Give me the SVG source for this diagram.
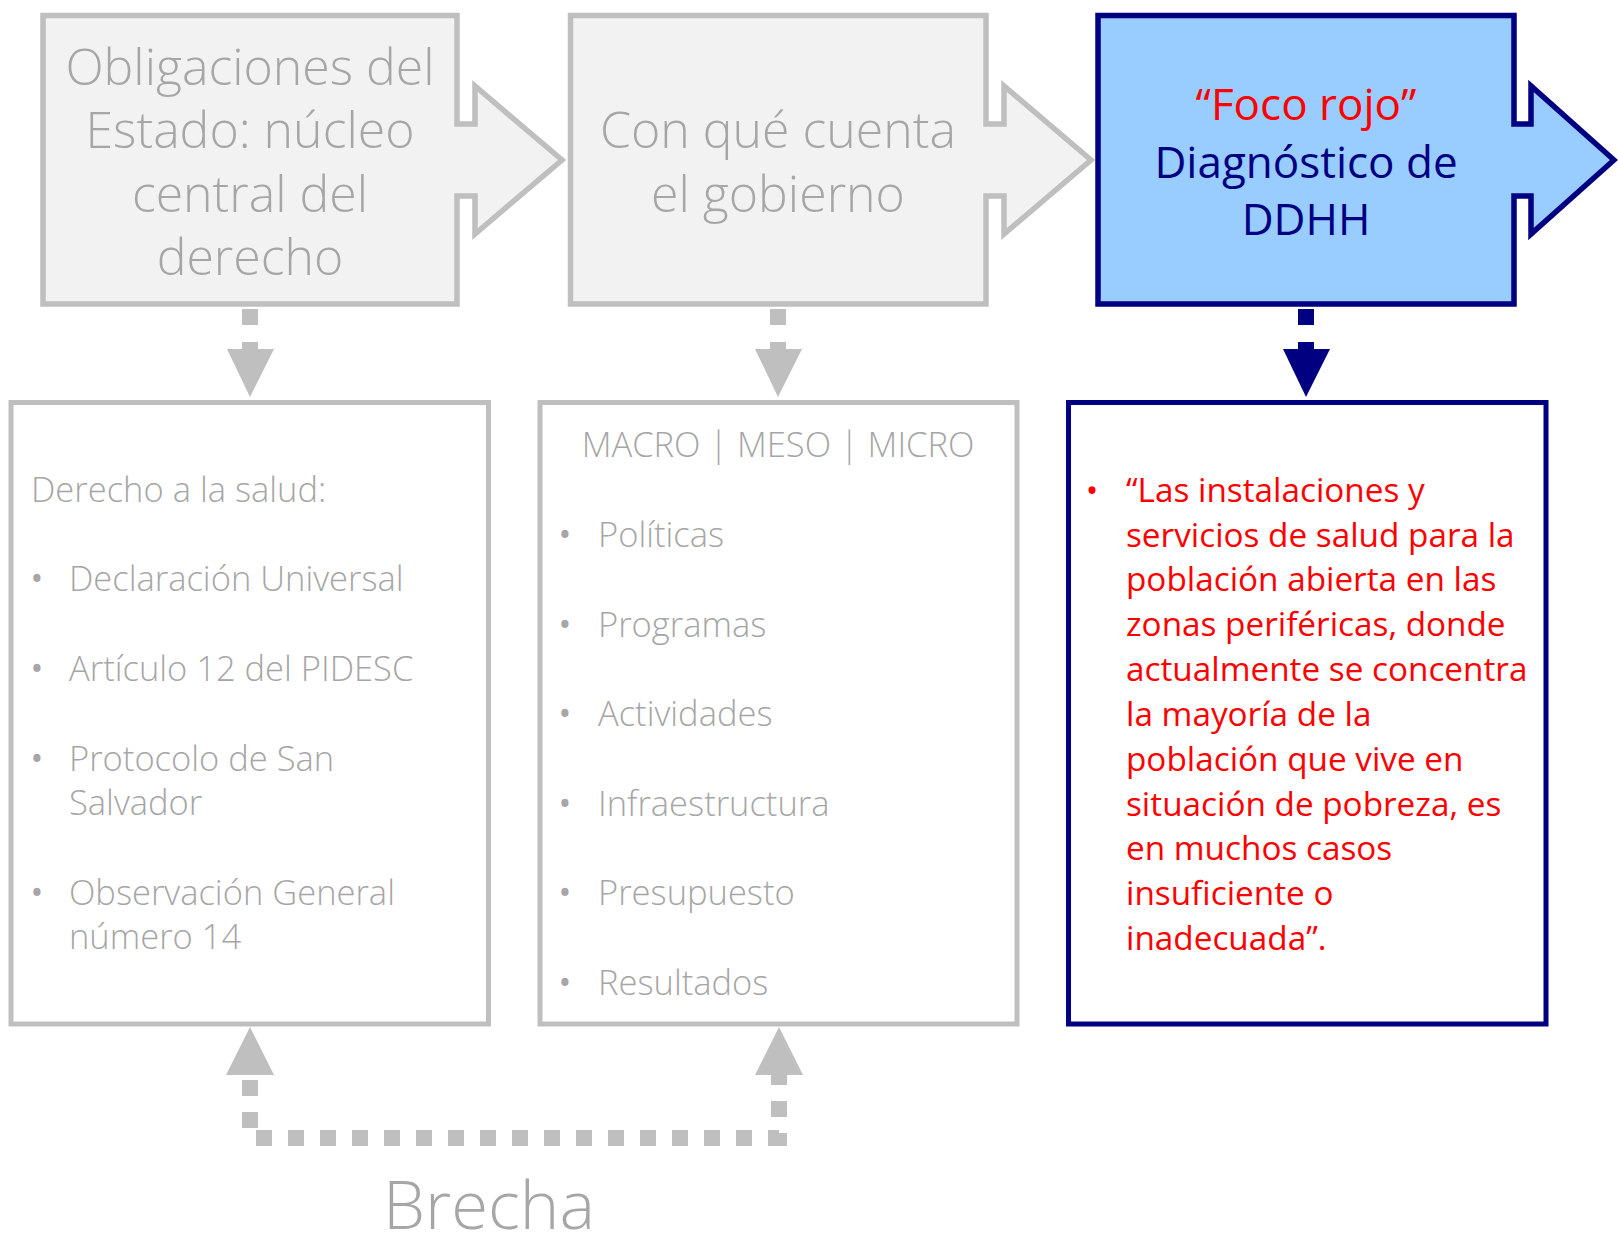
<svg xmlns="http://www.w3.org/2000/svg" width="1618" height="1240" viewBox="0 0 1618 1240">
<style>
.gbox{fill:#F2F2F2;stroke:#BFBFBF;stroke-width:5.5}
.bbox{fill:#99CCFF;stroke:#000080;stroke-width:5.5}
.wbox{fill:#FFFFFF;stroke:#BFBFBF;stroke-width:5}
.nbox{fill:#FFFFFF;stroke:#000080;stroke-width:5}
.t{font-family:"Open Sans","Noto Sans",sans-serif}
.big{font-size:50px;font-weight:300;fill:#A6A6A6;text-anchor:middle}
.hd{font-size:44px;font-weight:400;text-anchor:middle}
.li{font-size:34.5px;font-weight:300;fill:#A6A6A6}
.bul{font-size:34px;font-weight:400;fill:#A6A6A6;text-anchor:middle}
.red{font-size:33.3px;font-weight:400;fill:#FF0000}
.gd{fill:none;stroke:#BFBFBF;stroke-width:16}
.nd{fill:none;stroke:#000080;stroke-width:16}
</style>
<g id="node-obligaciones">
<path class="gbox" d="M43,15.5 H457 V124 H475 V86 L562,160 L475,234 V196 H457 V304 H43 Z"/>
<text class="t big"><tspan x="250" y="85">Obligaciones del</tspan><tspan x="250" y="148">Estado: núcleo</tspan><tspan x="250" y="212">central del</tspan><tspan x="250" y="275">derecho</tspan></text>
</g>
<g id="node-gobierno">
<path class="gbox" d="M570.5,15.5 H986 V124 H1004 V86 L1091,160 L1004,234 V196 H986 V304 H570.5 Z"/>
<text class="t big"><tspan x="778" y="148">Con qué cuenta</tspan><tspan x="778" y="212">el gobierno</tspan></text>
</g>
<g id="node-foco">
<path class="bbox" d="M1098,15.5 H1514 V124 H1531 V86 L1614,160 L1531,234 V196 H1514 V304 H1098 Z"/>
<text class="t hd"><tspan x="1306" y="120" fill="#FF0000">“Foco rojo”</tspan><tspan x="1306" y="178" fill="#000080">Diagnóstico de</tspan><tspan x="1306" y="235" fill="#000080">DDHH</tspan></text>
</g>
<g id="node-derecho">
<rect class="wbox" x="11" y="402.5" width="477.5" height="621.5"/>
<text class="t li" x="31" y="502">Derecho a la salud:</text>
<text class="t bul"><tspan x="37" y="591">•</tspan><tspan x="37" y="681">•</tspan><tspan x="37" y="771">•</tspan><tspan x="37" y="905">•</tspan></text>
<text class="t li"><tspan x="69" y="591">Declaración Universal</tspan><tspan x="69" y="681">Artículo 12 del PIDESC</tspan><tspan x="69" y="771">Protocolo de San</tspan><tspan x="69" y="815">Salvador</tspan><tspan x="69" y="905">Observación General</tspan><tspan x="69" y="949">número 14</tspan></text>
</g>
<g id="node-niveles">
<rect class="wbox" x="540" y="402.5" width="477" height="621.5"/>
<text class="t li" x="778" y="457" text-anchor="middle">MACRO | MESO | MICRO</text>
<text class="t bul"><tspan x="565" y="547">•</tspan><tspan x="565" y="637">•</tspan><tspan x="565" y="726">•</tspan><tspan x="565" y="816">•</tspan><tspan x="565" y="905">•</tspan><tspan x="565" y="995">•</tspan></text>
<text class="t li"><tspan x="598" y="547">Políticas</tspan><tspan x="598" y="637">Programas</tspan><tspan x="598" y="726">Actividades</tspan><tspan x="598" y="816">Infraestructura</tspan><tspan x="598" y="905">Presupuesto</tspan><tspan x="598" y="995">Resultados</tspan></text>
</g>
<g id="node-diagnostico">
<rect class="nbox" x="1068.5" y="402.5" width="477.5" height="621.5"/>
<text class="t red" x="1092" y="502" text-anchor="middle">•</text>
<text class="t red"><tspan x="1126" y="502">“Las instalaciones y</tspan><tspan x="1126" y="547">servicios de salud para la</tspan><tspan x="1126" y="591">población abierta en las</tspan><tspan x="1126" y="636">zonas periféricas, donde</tspan><tspan x="1126" y="681">actualmente se concentra</tspan><tspan x="1126" y="726">la mayoría de la</tspan><tspan x="1126" y="771">población que vive en</tspan><tspan x="1126" y="816">situación de pobreza, es</tspan><tspan x="1126" y="860">en muchos casos</tspan><tspan x="1126" y="905">insuficiente o</tspan><tspan x="1126" y="950">inadecuada”.</tspan></text>
</g>
<g id="connectors">
<path class="gd" d="M250,309 V350" stroke-dasharray="16 17"/>
<polygon fill="#BFBFBF" points="227,349 274,349 250,397"/>
<path class="gd" d="M778,309 V350" stroke-dasharray="16 17"/>
<polygon fill="#BFBFBF" points="755,349 802,349 778,397"/>
<path class="nd" d="M1306,309 V350" stroke-dasharray="16 17"/>
<polygon fill="#000080" points="1283,349 1330,349 1306,397"/>
<path class="gd" d="M250,1080 V1138 H779 V1075" stroke-dasharray="16 16"/>
<polygon fill="#BFBFBF" points="226,1075 274,1075 250,1027"/>
<polygon fill="#BFBFBF" points="755,1075 803,1075 779,1027"/>
</g>
<text class="t" x="489" y="1229" font-size="67" font-weight="300" fill="#A6A6A6" text-anchor="middle">Brecha</text>
</svg>
